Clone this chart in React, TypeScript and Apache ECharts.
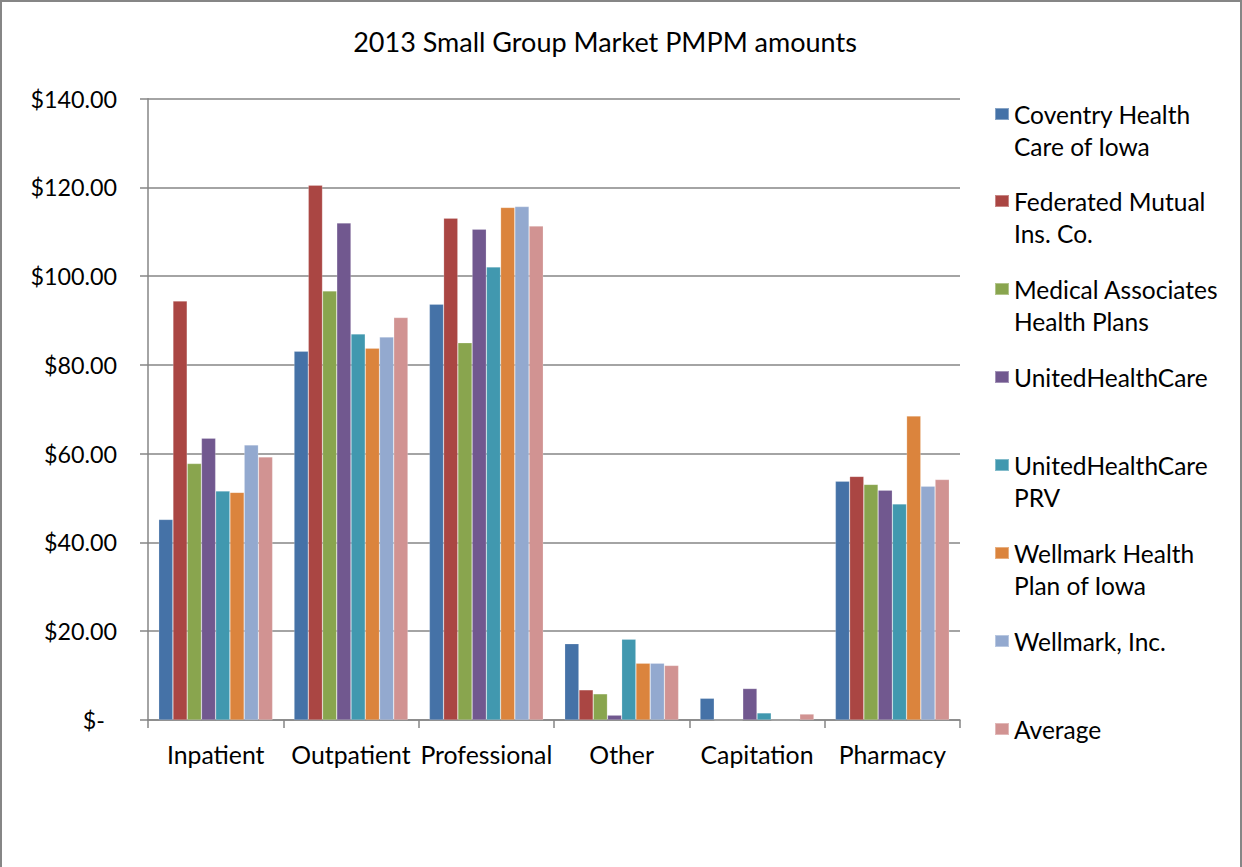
import React, { useEffect, useRef } from "react";
import * as echarts from "echarts";

const categories = ["Inpatient", "Outpatient", "Professional", "Other", "Capitation", "Pharmacy"];
const seriesNames = [
  "Coventry Health Care of Iowa",
  "Federated Mutual Ins. Co.",
  "Medical Associates Health Plans",
  "UnitedHealthCare",
  "UnitedHealthCare PRV",
  "Wellmark Health Plan of Iowa",
  "Wellmark, Inc.",
  "Average",
];
const legendLabels = [
  "Coventry Health\nCare of Iowa",
  "Federated Mutual\nIns. Co.",
  "Medical Associates\nHealth Plans",
  "UnitedHealthCare",
  "UnitedHealthCare\nPRV",
  "Wellmark Health\nPlan of Iowa",
  "Wellmark, Inc.",
  "Average",
];
const coventry = [45.2, 83.1, 93.7, 17.2, 4.9, 53.8];
const federated = [94.4, 120.5, 113.1, 6.8, 0, 54.9];
const medical = [57.8, 96.7, 85.0, 5.9, 0, 53.1];
const united = [63.5, 112.0, 110.6, 1.1, 7.1, 51.8];
const unitedPrv = [51.6, 87.0, 102.1, 18.2, 1.6, 48.7];
const wellmarkHp = [51.3, 83.8, 115.5, 12.8, 0, 68.5];
const wellmarkInc = [62.0, 86.3, 115.7, 12.8, 0, 52.7];
const average = [59.3, 90.7, 111.3, 12.3, 1.35, 54.2];
const seriesValues = [coventry, federated, medical, united, unitedPrv, wellmarkHp, wellmarkInc, average];
const colors = ["#4572A7", "#AA4643", "#89A54E", "#71588F", "#4198AF", "#DB843D", "#93A9CF", "#D19392"];

const FONT = "Lato";

export default function App() {
  const ref = useRef<HTMLDivElement>(null);
  useEffect(() => {
    const chart = echarts.init(ref.current!, undefined, { renderer: "svg" });
    const legendCenters = [114, 201, 289, 377, 465, 553, 641, 729];
    const L = 32;
    const legends = seriesNames.map((name, i) => {
      const lines = legendLabels[i].includes("\n") ? 3 : 1;
      return {
        data: [name],
        orient: "vertical",
        left: 994,
        top: legendCenters[i] - (lines * L) / 2,
        padding: 0,
        itemWidth: 14,
        itemHeight: 12,
        itemGap: 0,
        icon: "rect",
        selectedMode: false,
        formatter: () => (lines === 3 ? "\n" + legendLabels[i] : legendLabels[i]),
        textStyle: { fontFamily: FONT, fontSize: 24.5, color: "#000", lineHeight: L },
      };
    });
    chart.setOption({
      animation: false,
      color: colors,
      title: {
        text: "2013 Small Group Market PMPM amounts",
        left: 605,
        textAlign: "center",
        top: 28,
        padding: 0,
        textStyle: { fontFamily: FONT, fontSize: 27, fontWeight: "normal", color: "#000" },
      },
      legend: legends,
      grid: { left: 148, right: 282, top: 98.7, bottom: 147, containLabel: false },
      xAxis: {
        type: "category",
        data: categories,
        axisLine: { lineStyle: { color: "#868686", width: 1.5 } },
        axisTick: { show: true, length: 8, lineStyle: { color: "#868686", width: 1.5 } },
        axisLabel: { fontFamily: FONT, fontSize: 24.8, color: "#000", margin: 22, interval: 0 },
      },
      yAxis: {
        type: "value",
        min: 0,
        max: 140,
        interval: 20,
        axisLine: { show: true, lineStyle: { color: "#868686", width: 1.5 } },
        axisTick: { show: true, length: 8, lineStyle: { color: "#868686", width: 1.5 } },
        splitLine: { lineStyle: { color: "#868686", width: 1.5 } },
        axisLabel: {
          fontFamily: FONT,
          fontSize: 23.3,
          color: "#000",
          margin: 31,
          formatter: (v: number) => (v === 0 ? "{z|$-}" : "$" + v.toFixed(2)),
          rich: { z: { fontFamily: FONT, fontSize: 23.3, color: "#000", padding: [0, 12, 0, 0] } },
        },
      },
      graphic: [
        {
          type: "rect",
          shape: { x: 1, y: 1, width: 1240, height: 900 },
          style: { fill: "none", stroke: "#868686", lineWidth: 2 },
          silent: true,
        },
      ],
      series: seriesNames.map((name, i) => ({
        name,
        type: "bar",
        data: seriesValues[i],
        barGap: "0%",
        barCategoryGap: "15.8%",
        itemStyle: { color: colors[i], borderColor: "rgba(255,255,255,0.35)", borderWidth: 0.6 },
      })),
    });
    return () => chart.dispose();
  }, []);
  return <div ref={ref} style={{ position: "absolute", left: 0, top: 0, width: 1242, height: 867, background: "#fff" }} />;
}
